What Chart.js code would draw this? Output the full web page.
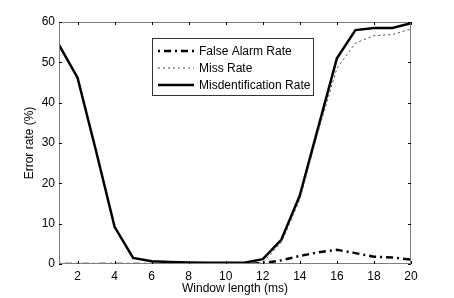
<!DOCTYPE html>
<html>
<head>
<meta charset="utf-8">
<script src="https://cdn.jsdelivr.net/npm/chart.js@4/dist/chart.umd.min.js"></script>
<style>
  html, body { margin: 0; padding: 0; background: #fff; }
  #wrap { width: 454px; height: 298px; }
</style>
</head>
<body>
<div id="wrap"><canvas id="chart" width="454" height="298"></canvas></div>
<script>
// window length (ms) on the x axis
const windowLen = [1, 2, 3, 4, 5, 6, 7, 8, 9, 10, 11, 12, 13, 14, 15, 16, 17, 18, 19, 20];

// error rates (%)
const falseAlarm = [0, 0, 0, 0, 0, 0, 0, 0, 0, 0, 0, 0.2, 0.9, 2.0, 2.9, 3.5, 2.7, 1.8, 1.6, 1.1];
const missRate   = [0, 0, 0, 0, 0, 0, 0, 0, 0, 0, 0, 0.3, 5.3, 16, 33, 48.5, 54.8, 56.6, 56.9, 58.3];
const misidRate  = [54.3, 46.2, 28, 9.2, 1.5, 0.7, 0.5, 0.4, 0.3, 0.3, 0.3, 1.2, 6, 17, 34, 51, 58, 58.5, 58.5, 59.7];

const xTicks = [2, 4, 6, 8, 10, 12, 14, 16, 18, 20];
const yTicks = [0, 10, 20, 30, 40, 50, 60];

const FONT = 'Liberation Sans, Arial, Helvetica, sans-serif';
const AXIS_GRAY = '#7f7f7f';

// matlab style box: inward ticks on all four sides + the frame
const boxTicks = {
  id: 'boxTicks',
  afterDatasetsDraw(chart) {
    const { ctx, chartArea: a, scales } = chart;
    ctx.save();
    ctx.strokeStyle = AXIS_GRAY;
    ctx.lineWidth = 1;
    ctx.strokeRect(a.left + 0.5, a.top + 0.5, a.right - a.left - 1, a.bottom - a.top - 1);
    ctx.strokeStyle = '#000';
    ctx.beginPath();
    xTicks.forEach(v => {
      const x = Math.round(scales.x.getPixelForValue(v)) + 0.5;
      ctx.moveTo(x, a.bottom); ctx.lineTo(x, a.bottom - 3);
      ctx.moveTo(x, a.top); ctx.lineTo(x, a.top + 3);
    });
    yTicks.forEach(v => {
      const y = Math.round(scales.y.getPixelForValue(v)) + 0.5;
      ctx.moveTo(a.left, y); ctx.lineTo(a.left + 3, y);
      ctx.moveTo(a.right, y); ctx.lineTo(a.right - 3, y);
    });
    ctx.stroke();
    ctx.restore();
  }
};

// legend box drawn inside the plot, like the original
const boxLegend = {
  id: 'boxLegend',
  afterDraw(chart) {
    const { ctx } = chart;
    const bx = 152, by = 38, bw = 161, bh = 57;
    ctx.save();
    ctx.fillStyle = '#fff';
    ctx.fillRect(bx, by, bw, bh);
    ctx.strokeStyle = '#333';
    ctx.lineWidth = 1;
    ctx.strokeRect(bx + 0.5, by + 0.5, bw, bh);
    ctx.font = '12px ' + FONT;
    ctx.textBaseline = 'middle';
    chart.data.datasets.forEach((ds, i) => {
      const y = by + 13 + i * 17;
      ctx.strokeStyle = ds.borderColor;
      ctx.lineWidth = ds.borderWidth;
      ctx.setLineDash(ds.borderDash || []);
      ctx.beginPath();
      ctx.moveTo(158, y); ctx.lineTo(194, y);
      ctx.stroke();
      ctx.setLineDash([]);
      ctx.fillStyle = '#000';
      ctx.fillText(ds.label, 199, y + 1);
    });
    ctx.restore();
  }
};

new Chart(document.getElementById('chart'), {
  type: 'line',
  data: {
    labels: windowLen,
    datasets: [
      {
        label: 'False Alarm Rate',
        data: windowLen.map((x, i) => ({ x, y: falseAlarm[i] })),
        borderColor: '#000',
        borderWidth: 2.5,
        borderDash: [2, 4, 7, 4],
        pointRadius: 0,
        tension: 0
      },
      {
        label: 'Miss Rate',
        data: windowLen.map((x, i) => ({ x, y: missRate[i] })),
        borderColor: '#444',
        borderWidth: 1,
        borderDash: [2, 3],
        pointRadius: 0,
        tension: 0
      },
      {
        label: 'Misdentification Rate',
        data: windowLen.map((x, i) => ({ x, y: misidRate[i] })),
        borderColor: '#000',
        borderWidth: 2.5,
        pointRadius: 0,
        tension: 0
      }
    ]
  },
  options: {
    responsive: false,
    animation: false,
    layout: { padding: { left: 0, top: 22, right: 43, bottom: 0 } },
    plugins: {
      legend: { display: false },
      tooltip: { enabled: false }
    },
    scales: {
      x: {
        type: 'linear',
        min: 1,
        max: 20,
        afterBuildTicks: s => { s.ticks = xTicks.map(v => ({ value: v })); },
        afterFit: s => { s.height = 34; },
        grid: { display: false, drawTicks: false, tickLength: 0 },
        border: { display: false },
        ticks: { color: '#000', font: { family: FONT, size: 12 }, padding: 5, maxRotation: 0 },
        title: {
          display: true,
          text: 'Window length (ms)',
          color: '#000',
          font: { family: FONT, size: 12 },
          padding: { top: 0, bottom: 2 }
        }
      },
      y: {
        min: 0,
        max: 60,
        afterBuildTicks: s => { s.ticks = yTicks.map(v => ({ value: v })); },
        afterFit: s => { s.width = 59; },
        grid: { display: false, drawTicks: false, tickLength: 0 },
        border: { display: false },
        ticks: { color: '#000', font: { family: FONT, size: 12 }, padding: 4 },
        title: {
          display: true,
          text: 'Error rate (%)',
          color: '#000',
          font: { family: FONT, size: 12 },
          padding: { top: 22, bottom: 0 }
        }
      }
    }
  },
  plugins: [boxTicks, boxLegend]
});
</script>
</body>
</html>
